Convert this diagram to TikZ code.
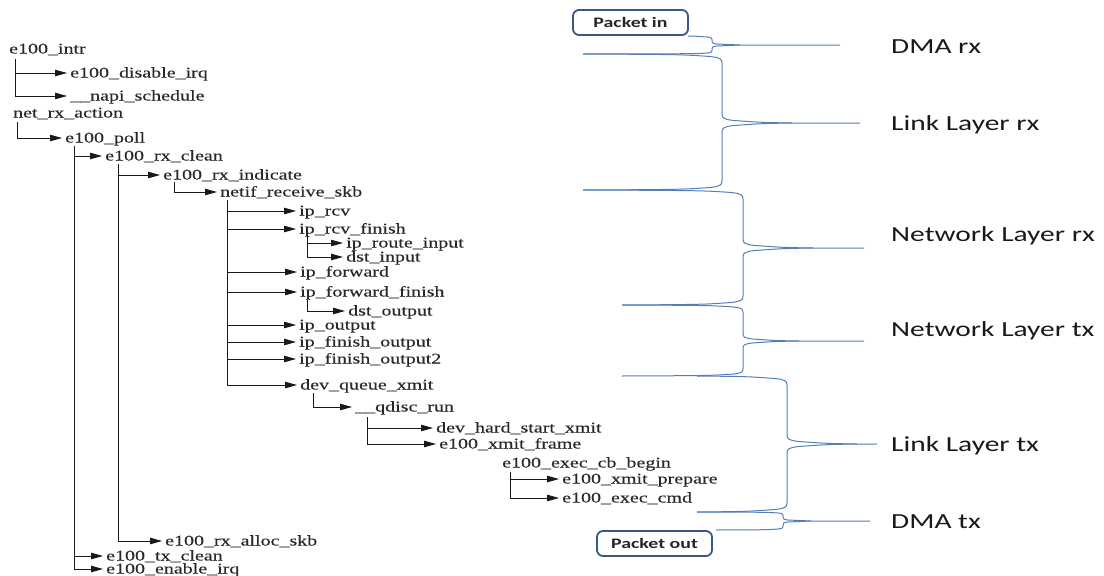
\documentclass[tikz,border=0pt]{standalone}
\usepackage{fontspec}
\usetikzlibrary{arrows.meta}
\newfontfamily\fnserif{Liberation Serif}[FakeStretch=1.35,FakeBold=0.25]
\newfontfamily\fnsans{Carlito}[FakeStretch=1.37]
\definecolor{bracecol}{RGB}{84,126,186}
\definecolor{boxcol}{RGB}{56,88,135}
\definecolor{inkgray}{RGB}{40,40,40}

% Right-pointing layer brace with long tails.
% #1,#2 top tail start; #3,#4 bottom tail start; #5 spine x; #6 tip y; #7 tip end x; #8 corner scale
\newcommand\layerbrace[8]{%
  \draw[bracel] (#1,#2) .. controls ({#5-40*#8},{#2+0.5*#8}) .. ({#5-12*#8},{#2+2.5*#8})
    .. controls ({#5-2*#8},{#2+3.5*#8}) and (#5,{#2+5*#8}) .. (#5,{#2+9*#8})
    -- (#5,{#6-9*#8})
    .. controls (#5,{#6-5*#8}) and ({#5+2*#8},{#6-3.5*#8}) .. ({#5+12*#8},{#6-2.5*#8})
    .. controls ({#5+40*#8},{#6-0.5*#8}) .. ({#5+70*#8},#6) -- (#7,#6);
  \draw[bracel] (#3,#4) .. controls ({#5-40*#8},{#4-0.5*#8}) .. ({#5-12*#8},{#4-2.5*#8})
    .. controls ({#5-2*#8},{#4-3.5*#8}) and (#5,{#4-5*#8}) .. (#5,{#4-9*#8})
    -- (#5,{#6+9*#8})
    .. controls (#5,{#6+5*#8}) and ({#5+2*#8},{#6+3.5*#8}) .. ({#5+12*#8},{#6+2.5*#8})
    .. controls ({#5+40*#8},{#6+0.5*#8}) .. ({#5+70*#8},#6);
}

\begin{document}
\begin{tikzpicture}[x=1pt,y=-1pt,
  fn/.style={anchor=west, inner xsep=3pt, inner ysep=0pt, text height=10pt, text depth=1pt,
    font=\fnserif\fontsize{14.8}{16}\selectfont, text=inkgray},
  call/.style={draw=black!90, line width=0.9pt, -{Triangle[length=12pt,width=6.5pt]}},
  bracel/.style={draw=bracecol, line width=1pt},
  layer/.style={anchor=base west, inner sep=0pt, font=\fnsans\fontsize{21.5}{24}\selectfont, text=black!90},
  pkt/.style={draw=boxcol, line width=1.8pt, rounded corners=6pt, minimum width=115pt,
    minimum height=25pt, fill=white, inner sep=0pt, font=\fnsans\bfseries\fontsize{14.5}{16}\selectfont,
    text=black!85}
]
\useasboundingbox (0,0) rectangle (1104,576);

% ---- call tree ----
\node[fn] (intr) at (6,49) {e100\_intr};
\coordinate (s-intr) at (15,59);
\node[fn] (dis) at (67,73) {e100\_disable\_irq};
\node[fn] (napi) at (67,96) {\_\_napi\_schedule};
\draw[call] (s-intr) |- (dis.west);
\draw[call] (s-intr) |- (napi.west);

\node[fn] (netrx) at (10,113) {net\_rx\_action};
\coordinate (s-netrx) at (17,122);
\node[fn] (poll) at (62,138) {e100\_poll};
\draw[call] (s-netrx) |- (poll.west);

\coordinate (s-poll) at (74,146);
\node[fn] (rxclean) at (102,156) {e100\_rx\_clean};
\node[fn] (txclean) at (103,556) {e100\_tx\_clean};
\node[fn] (enirq) at (103,569) {e100\_enable\_irq};
\draw[call] (s-poll) |- (rxclean.west);
\draw[call] (s-poll) |- (txclean.west);
\draw[call] (s-poll) |- (enirq.west);

\coordinate (s-rxclean) at (118,164);
\node[fn] (rxind) at (160,175) {e100\_rx\_indicate};
\node[fn] (rxalloc) at (162,541) {e100\_rx\_alloc\_skb};
\draw[call] (s-rxclean) |- (rxind.west);
\draw[call] (s-rxclean) |- (rxalloc.west);

\coordinate (s-rxind) at (174,182);
\node[fn] (netif) at (217,192) {netif\_receive\_skb};
\draw[call] (s-rxind) |- (netif.west);

\coordinate (s-netif) at (227,200);
\node[fn] (iprcv) at (296,211) {ip\_rcv};
\node[fn] (iprcvf) at (296,229) {ip\_rcv\_finish};
\node[fn] (ipfwd) at (297,272) {ip\_forward};
\node[fn] (ipfwdf) at (297,292) {ip\_forward\_finish};
\node[fn] (ipout) at (296,325) {ip\_output};
\node[fn] (ipfo) at (296,342) {ip\_finish\_output};
\node[fn] (ipfo2) at (296,359) {ip\_finish\_output2};
\node[fn] (devq) at (297,385) {dev\_queue\_xmit};
\foreach \c in {iprcv,iprcvf,ipfwd,ipfwdf,ipout,ipfo,ipfo2,devq}
  \draw[call] (s-netif) |- (\c.west);

\coordinate (s-iprcvf) at (307,236);
\node[fn] (iproute) at (343,243) {ip\_route\_input};
\node[fn] (dstin) at (343,257) {dst\_input};
\draw[call] (s-iprcvf) |- (iproute.west);
\draw[call] (s-iprcvf) |- (dstin.west);

\coordinate (s-ipfwdf) at (307,300);
\node[fn] (dstout) at (345,311) {dst\_output};
\draw[call] (s-ipfwdf) |- (dstout.west);

\coordinate (s-devq) at (313,393);
\node[fn] (qdisc) at (352,407) {\_\_qdisc\_run};
\draw[call] (s-devq) |- (qdisc.west);

\coordinate (s-qdisc) at (367,417);
\node[fn] (devhard) at (433,428) {dev\_hard\_start\_xmit};
\node[fn] (xframe) at (436,444) {e100\_xmit\_frame};
\draw[call] (s-qdisc) |- (devhard.west);
\draw[call] (s-qdisc) |- (xframe.west);

\node[fn] (execcb) at (499,463) {e100\_exec\_cb\_begin};
\coordinate (s-execcb) at (510,472);
\node[fn] (xprep) at (559,479) {e100\_xmit\_prepare};
\node[fn] (execcmd) at (559,498) {e100\_exec\_cmd};
\draw[call] (s-execcb) |- (xprep.west);
\draw[call] (s-execcb) |- (execcmd.west);

% ---- packet boxes ----
\node[pkt] (pin) at (630.5,22.5) {Packet in};
\node[pkt] (pout) at (654.5,543.5) {Packet out};

% ---- layer braces ----
\layerbrace{688}{36}{583}{54}{712}{45}{840}{0.4}
\layerbrace{583}{54}{583}{190}{722}{123}{860}{1}
\layerbrace{583}{190}{622}{305}{743}{248}{864}{1}
\layerbrace{622}{305}{622}{376}{743}{341}{864}{0.8}
\layerbrace{697}{376}{697}{512}{787}{444}{877}{1}
\layerbrace{697}{512}{716}{530}{783}{521}{870}{0.4}

% ---- layer labels ----
\node[layer] (l1) at (891,53) {DMA rx};
\node[layer] (l2) at (891,130) {Link Layer rx};
\node[layer] (l3) at (891,241) {Network Layer rx};
\node[layer] (l4) at (891,336) {Network Layer tx};
\node[layer] (l5) at (891,451) {Link Layer tx};
\node[layer] (l6) at (891,528) {DMA tx};
\end{tikzpicture}
\end{document}
